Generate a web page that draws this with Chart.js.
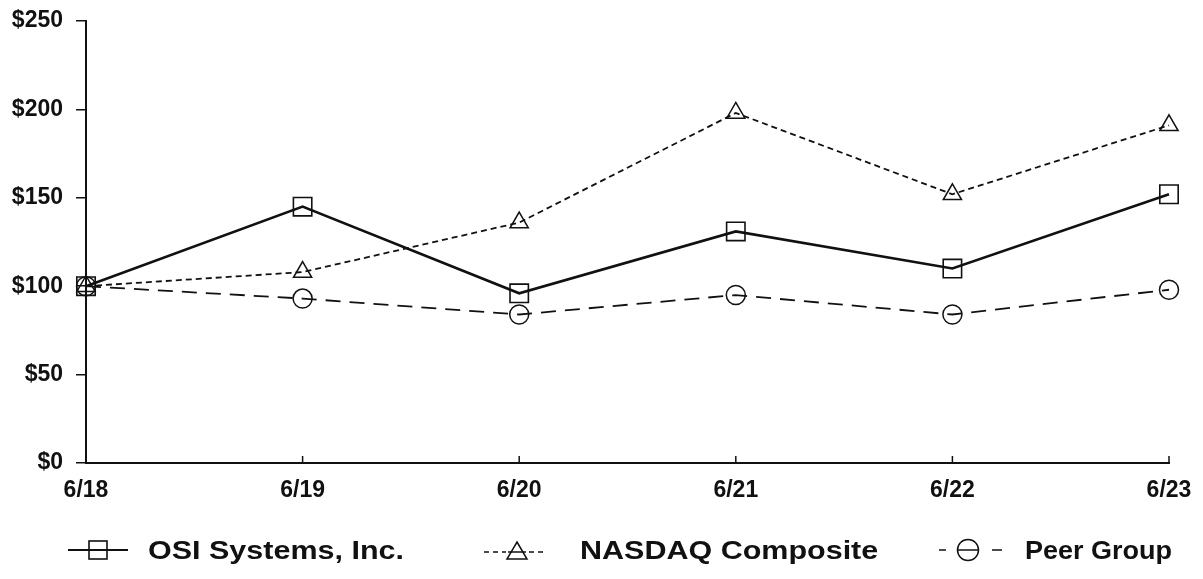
<!DOCTYPE html>
<html>
<head>
<meta charset="utf-8">
<script src="https://cdn.jsdelivr.net/npm/chart.js@4.4.0/dist/chart.umd.min.js"></script>
<style>
  html, body { margin: 0; padding: 0; background: #fff; }
  #wrap { position: relative; width: 1203px; height: 579px; }
  #legend { position: absolute; left: 0; top: 532px; width: 1203px; height: 36px;
            font-family: "Liberation Sans", Arial, sans-serif; font-weight: bold; font-size: 25px; color: #111; }
  .sample { position: absolute; top: 6px; }
  .txt { position: absolute; top: 3px; line-height: 30px; white-space: nowrap;
         transform-origin: left center; }
</style>
</head>
<body>
<div id="wrap">
  <canvas id="c" width="1203" height="579"></canvas>
  <div id="legend">
    <svg class="sample" style="left:66px" width="64" height="24"><line x1="2" y1="12" x2="62" y2="12" stroke="#111" stroke-width="2.2"/><rect x="23" y="3" width="18" height="18" fill="#fff" stroke="#111" stroke-width="1.6"/><line x1="23" y1="12" x2="41" y2="12" stroke="#111" stroke-width="2"/></svg>
    <span class="txt" style="left:148px; transform: scaleX(1.22)">OSI Systems, Inc.</span>
    <svg class="sample" style="left:482px" width="64" height="24"><line x1="2" y1="14" x2="62" y2="14" stroke="#111" stroke-width="1.5" stroke-dasharray="5,4"/><rect x="24" y="3" width="20" height="20" fill="#fff"/><polygon points="35,4 45,21 25,21" fill="#fff" stroke="#111" stroke-width="1.5"/><line x1="26" y1="14" x2="44" y2="14" stroke="#111" stroke-width="1.5"/></svg>
    <span class="txt" style="left:580px; transform: scaleX(1.22)">NASDAQ Composite</span>
    <svg class="sample" style="left:936px" width="70" height="24"><line x1="3" y1="12" x2="10" y2="12" stroke="#111" stroke-width="1.5"/><line x1="56" y1="12" x2="66" y2="12" stroke="#111" stroke-width="1.5"/><circle cx="32" cy="12" r="10.5" fill="#fff" stroke="#111" stroke-width="1.5"/><line x1="21.5" y1="12" x2="42.5" y2="12" stroke="#111" stroke-width="1.5"/></svg>
    <span class="txt" style="left:1025px; transform: scaleX(1.08)">Peer Group</span>
  </div>
</div>
<script>
var years = ['6/18', '6/19', '6/20', '6/21', '6/22', '6/23'];
var osi = [100, 145, 96, 131, 110, 152];
var nasdaq = [100, 108, 136, 198, 152, 191];
var peer = [100, 93, 84, 95, 84, 98];
var yTicks = [0, 50, 100, 150, 200, 250];

// x tick marks point up into the plot, like the original
var upTicks = {
  id: 'upTicks',
  afterDraw: function (chart) {
    var ctx = chart.ctx, x = chart.scales.x, bottom = chart.chartArea.bottom;
    ctx.save();
    ctx.strokeStyle = '#111';
    ctx.lineWidth = 1.5;
    years.forEach(function (y, i) {
      var px = x.getPixelForValue(i);
      ctx.beginPath();
      ctx.moveTo(px, bottom);
      ctx.lineTo(px, bottom - 7);
      ctx.stroke();
    });
    ctx.restore();
  }
};

var font = { family: '"Liberation Sans", Arial, sans-serif', weight: 'bold', size: 23, lineHeight: 1 };

new Chart(document.getElementById('c'), {
  type: 'line',
  data: {
    labels: years,
    datasets: [
      {
        label: 'OSI Systems, Inc.',
        data: osi,
        borderColor: '#111', borderWidth: 2.6,
        pointStyle: 'rect', pointRadius: 13, pointBorderWidth: 1.6,
        pointBackgroundColor: 'rgba(0,0,0,0)', pointBorderColor: '#111',
        tension: 0
      },
      {
        label: 'NASDAQ Composite',
        data: nasdaq,
        borderColor: '#111', borderWidth: 1.8, borderDash: [6, 4],
        pointStyle: 'triangle', pointRadius: 10.5, pointBorderWidth: 1.5,
        pointBackgroundColor: 'rgba(0,0,0,0)', pointBorderColor: '#111',
        tension: 0
      },
      {
        label: 'Peer Group',
        data: peer,
        borderColor: '#111', borderWidth: 1.8, borderDash: [15, 9],
        pointStyle: 'circle', pointRadius: 9.5, pointBorderWidth: 1.5,
        pointBackgroundColor: 'rgba(0,0,0,0)', pointBorderColor: '#111',
        tension: 0
      }
    ]
  },
  options: {
    responsive: false,
    animation: false,
    layout: { padding: { left: 0, right: 34, top: 21, bottom: 76 } },
    plugins: { legend: { display: false }, tooltip: { enabled: false } },
    scales: {
      x: {
        offset: false,
        grid: { display: false, drawTicks: false },
        border: { display: true, color: '#111', width: 2 },
        ticks: { color: '#111', font: font, padding: 16, maxRotation: 0 },
        afterFit: function (s) { s.height = 40; s.paddingLeft = 0; s.paddingRight = 0; }
      },
      y: {
        min: 0, max: 250,
        afterBuildTicks: function (s) { s.ticks = yTicks.map(function (v) { return { value: v }; }); },
        grid: { display: true, drawOnChartArea: false, drawTicks: true, tickLength: 10, color: '#111', lineWidth: 1.5 },
        border: { display: true, color: '#111', width: 2 },
        ticks: { color: '#111', font: font, padding: 13, callback: function (v) { return '$' + v; } },
        afterFit: function (s) { s.width = 86; s.paddingTop = 0; s.paddingBottom = 0; }
      }
    }
  },
  plugins: [upTicks]
});
</script>
</body>
</html>
